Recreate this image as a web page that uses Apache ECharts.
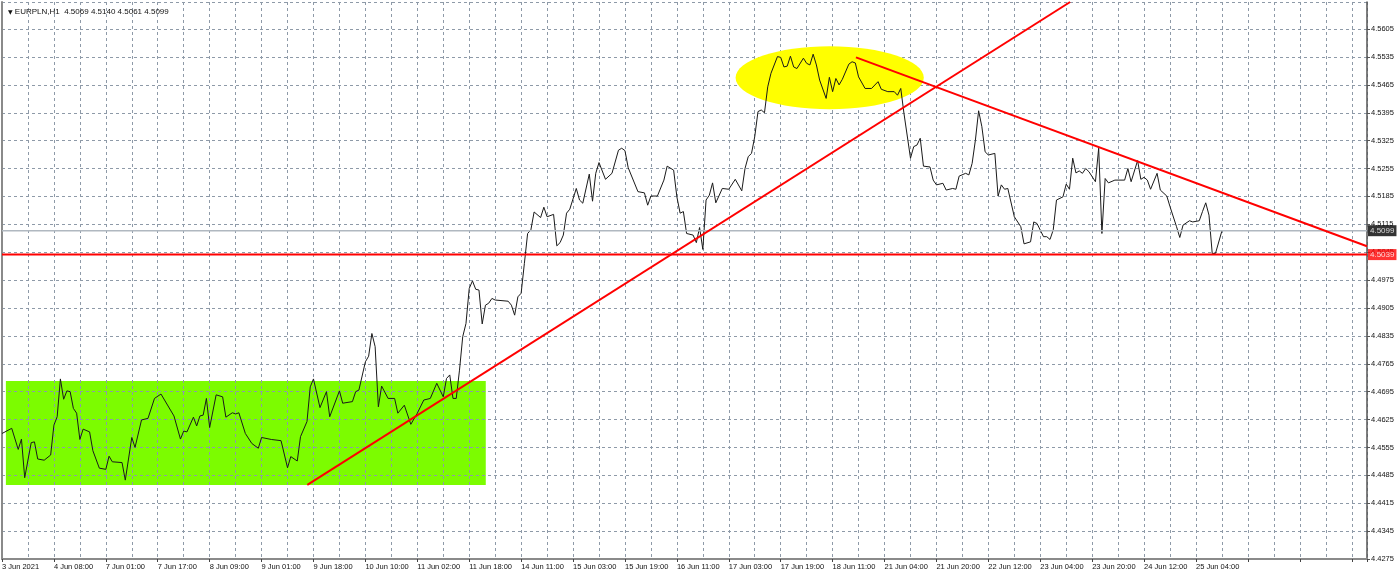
<!DOCTYPE html>
<html>
<head>
<meta charset="utf-8">
<script src="https://cdn.jsdelivr.net/npm/echarts@6/dist/echarts.min.js"></script>
<style>
    html, body { margin: 0; padding: 0; background: #fff; }
    #chart { width: 1400px; height: 578px; }
</style>
</head>
<body>
<div id="chart"></div>
<script>
    // EURPLN H1, bar index on x (one step = one hourly bar)
    const BASE = 4.4275;      // lowest price label on the axis
    const STEP = 0.007;       // price grid step

    const tickLabels = ['3 Jun 2021', '4 Jun 08:00', '7 Jun 01:00', '7 Jun 17:00', '8 Jun 09:00', '9 Jun 01:00',
        '9 Jun 18:00', '10 Jun 10:00', '11 Jun 02:00', '11 Jun 18:00', '14 Jun 11:00', '15 Jun 03:00',
        '15 Jun 19:00', '16 Jun 11:00', '17 Jun 03:00', '17 Jun 19:00', '18 Jun 11:00', '21 Jun 04:00',
        '21 Jun 20:00', '22 Jun 12:00', '23 Jun 04:00', '23 Jun 20:00', '24 Jun 12:00', '25 Jun 04:00'];

    const barIdx = [0, 3, 5, 6, 7, 9, 10, 11, 13, 15, 16, 17, 18, 19, 20, 21, 22, 23, 24, 25, 27, 28, 30, 32, 33, 34, 37, 38,
        40, 41, 43, 45, 47, 49, 53, 55, 56, 57, 59, 60, 61, 62, 63, 64, 66, 68, 69, 71, 72, 73, 75, 77, 79, 80, 83, 86, 88, 89,
        91, 92, 94, 95, 96, 98, 100, 101, 104, 105, 108, 109, 110, 112, 113, 114, 115, 116, 117, 119, 121, 122, 124, 126, 128,
        130, 132, 134, 136, 137, 138, 139, 140, 141, 142, 143, 144, 145, 146, 147, 148, 149, 150, 151, 152, 156, 157, 158, 159,
        160, 161, 162, 163, 164, 166, 167, 168, 170, 171, 172, 173, 174, 175, 177, 178, 179, 181, 182, 183, 184, 186, 188, 190,
        191, 192, 193, 196, 198, 199, 200, 202, 204, 205, 207, 208, 209, 210, 211, 213, 214, 215, 216, 217, 218, 219, 220, 222,
        224, 226, 228, 229, 230, 231, 232, 233, 234, 235, 236, 237, 239, 240, 241, 242, 243, 244, 245, 247, 248, 249, 250, 251,
        252, 254, 255, 256, 257, 258, 259, 261, 262, 263, 264, 266, 268, 270, 271, 273, 275, 276, 277, 278, 280, 281, 282, 283,
        284, 286, 287, 288, 290, 291, 293, 294, 295, 297, 298, 299, 300, 301, 302, 303, 304, 306, 307, 308, 309, 310, 312, 314,
        315, 317, 318, 319, 321, 322, 323, 324, 325, 327, 328, 329, 330, 331, 332, 333, 334, 335, 337, 338, 339, 340, 341, 343,
        346, 347, 348, 350, 351, 352, 353, 354, 356, 357, 359, 360, 362, 363, 364, 366, 367, 369, 370, 371, 372, 373, 374, 376];

    const closes = [4.4590, 4.4603, 4.4550, 4.4576, 4.4479, 4.4567, 4.4569, 4.4526, 4.4523, 4.4536, 4.4611, 4.4632, 4.4727,
        4.4676, 4.4697, 4.4695, 4.4653, 4.4641, 4.4575, 4.4601, 4.4594, 4.4547, 4.4503, 4.4500, 4.4533, 4.4519, 4.4517, 4.4473,
        4.4580, 4.4555, 4.4624, 4.4628, 4.4678, 4.4689, 4.4634, 4.4576, 4.4596, 4.4594, 4.4631, 4.4609, 4.4634, 4.4636, 4.4678,
        4.4605, 4.4687, 4.4682, 4.4631, 4.4642, 4.4639, 4.4642, 4.4590, 4.4565, 4.4553, 4.4580, 4.4575, 4.4572, 4.4504, 4.4532,
        4.4521, 4.4582, 4.4620, 4.4707, 4.4727, 4.4655, 4.4695, 4.4632, 4.4697, 4.4666, 4.4670, 4.4695, 4.4699, 4.4770, 4.4784,
        4.4841, 4.4808, 4.4657, 4.4709, 4.4678, 4.4678, 4.4641, 4.4661, 4.4613, 4.4641, 4.4674, 4.4678, 4.4716, 4.4682, 4.4728,
        4.4737, 4.4678, 4.4678, 4.4749, 4.4833, 4.4866, 4.4954, 4.4973, 4.4952, 4.4950, 4.4865, 4.4912, 4.4917, 4.4929, 4.4925,
        4.4922, 4.4912, 4.4887, 4.4933, 4.4942, 4.5017, 4.5092, 4.5101, 4.5146, 4.5132, 4.5158, 4.5134, 4.5140, 4.5061, 4.5069,
        4.5088, 4.5143, 4.5153, 4.5205, 4.5176, 4.5168, 4.5241, 4.5173, 4.5243, 4.5270, 4.5228, 4.5243, 4.5301, 4.5306, 4.5300,
        4.5257, 4.5197, 4.5194, 4.5163, 4.5186, 4.5186, 4.5226, 4.5261, 4.5251, 4.5184, 4.5143, 4.5147, 4.5092, 4.5088, 4.5069,
        4.5107, 4.5052, 4.5176, 4.5188, 4.5219, 4.5169, 4.5205, 4.5203, 4.5228, 4.5199, 4.5255, 4.5285, 4.5293, 4.5335, 4.5398,
        4.5402, 4.5395, 4.5460, 4.5494, 4.5536, 4.5534, 4.5510, 4.5512, 4.5537, 4.5510, 4.5506, 4.5532, 4.5519, 4.5515, 4.5542,
        4.5515, 4.5477, 4.5431, 4.5484, 4.5448, 4.5481, 4.5465, 4.5479, 4.5517, 4.5523, 4.5520, 4.5485, 4.5456, 4.5456, 4.5473,
        4.5454, 4.5448, 4.5448, 4.5439, 4.5456, 4.5393, 4.5281, 4.5310, 4.5314, 4.5331, 4.5261, 4.5259, 4.5226, 4.5214, 4.5218,
        4.5201, 4.5205, 4.5203, 4.5236, 4.5243, 4.5239, 4.5268, 4.5326, 4.5400, 4.5360, 4.5297, 4.5289, 4.5293, 4.5186, 4.5214,
        4.5203, 4.5205, 4.5134, 4.5109, 4.5066, 4.5071, 4.5121, 4.5117, 4.5084, 4.5084, 4.5077, 4.5101, 4.5176, 4.5184, 4.5216,
        4.5203, 4.5281, 4.5244, 4.5249, 4.5243, 4.5255, 4.5247, 4.5222, 4.5306, 4.5092, 4.5230, 4.5219, 4.5226, 4.5226, 4.5255,
        4.5222, 4.5275, 4.5228, 4.5233, 4.5226, 4.5203, 4.5243, 4.5201, 4.5186, 4.5159, 4.5109, 4.5082, 4.5113, 4.5124, 4.5121,
        4.5124, 4.5147, 4.5169, 4.5138, 4.5042, 4.5042, 4.5099];

    // header: open high low close of the last bar
    const ohlc = [4.5069, 4.5140, 4.5061, 4.5099];

    // drawn objects: trend lines (bar, price)
    const upTrendBars = [94.1, 329.2];
    const upTrendPrices = [4.4461, 4.5673];
    const downTrendBars = [263.2, 420.7];
    const downTrendPrices = [4.5534, 4.5060];
    const supportLevel = 4.5039;
    const bidLevel = 4.5099;

    // green range box: [bar from, price low, bar to, price high]
    const rangeBox = [1.2, 4.4461, 149.1, 4.4722];
    // yellow ellipse: [center bar, center price, half width in bars, half height in price]
    const topEllipse = [255.1, 4.5483, 29.0, 0.0079];

    const X_MAX = 420.7;
    const Y_TOP = 4.5673;

    const FONT = 'Liberation Sans';
    const GRID_LINE = { color: '#8e9aa8', width: 1, type: [3, 3] };

    function off(p) {
        return p - BASE;
    }

    // full width horizontal level
    function levelSeries(name, price, color, width) {
        return {
            name: name,
            type: 'line',
            z: 4,
            symbol: 'none',
            silent: true,
            data: [[0, off(price)], [X_MAX, off(price)]],
            lineStyle: { color: color, width: width }
        };
    }

    // price tag at the right axis
    function tagSeries(price, bg) {
        return {
            type: 'scatter',
            z: 6,
            clip: false,
            silent: true,
            symbolSize: 0,
            data: [[X_MAX, off(price)]],
            label: {
                show: true,
                position: 'right',
                distance: 1,
                formatter: price.toFixed(4),
                color: '#fff',
                backgroundColor: bg,
                padding: [1, 2, 1, 2],
                lineHeight: 9,
                fontFamily: FONT,
                fontSize: 8
            }
        };
    }

    let chart = echarts.init(document.getElementById('chart'), null, { renderer: 'canvas' });

    let priceData = barIdx.map((b, i) => [b, off(closes[i])]);

    let option = {
        animation: false,
        backgroundColor: '#ffffff',
        title: {
            left: 3,
            top: 3,
            text: '{tri|▼} EURPLN,H1  ' + ohlc.map(v => v.toFixed(4)).join(' '),
            textStyle: {
                fontFamily: FONT,
                fontSize: 8,
                fontWeight: 'normal',
                color: '#111',
                rich: {
                    tri: { fontSize: 6, color: '#111', fontFamily: 'DejaVu Sans' }
                }
            }
        },
        grid: {
            left: 2,
            right: 33,
            top: 2,
            bottom: 19,
            outerBoundsMode: 'none',
            containLabel: false
        },
        xAxis: [{
            type: 'value',
            min: 0,
            max: X_MAX,
            interval: 16,
            position: 'bottom',
            axisLine: { show: false },
            axisTick: { show: true, length: 3, lineStyle: { color: '#444' } },
            minorTick: { show: true, splitNumber: 2, length: 0 },
            minorSplitLine: { show: true, lineStyle: GRID_LINE },
            splitLine: { show: true, lineStyle: GRID_LINE },
            axisLabel: {
                show: true,
                showMaxLabel: false,
                align: 'left',
                margin: 4,
                fontFamily: FONT,
                fontSize: 7.5,
                color: '#111',
                formatter: function (v) {
                    let i = Math.round(v / 16);
                    return tickLabels[i] || '';
                }
            }
        }, {
            // top frame line only
            type: 'value',
            position: 'top',
            axisLine: { show: true, lineStyle: { color: '#8a8a8a', width: 2 } },
            axisTick: { show: false },
            axisLabel: { show: false },
            splitLine: { show: false }
        }],
        yAxis: [{
            type: 'value',
            position: 'right',
            min: 0,
            max: Y_TOP - BASE,
            interval: STEP,
            axisLine: { show: true, onZero: false, lineStyle: { color: '#555', width: 1.5 } },
            axisTick: { show: true, length: 3, lineStyle: { color: '#555' } },
            splitLine: { show: true, lineStyle: GRID_LINE },
            axisLabel: {
                show: true,
                showMaxLabel: false,
                margin: 4,
                fontFamily: FONT,
                fontSize: 7.5,
                color: '#111',
                formatter: function (v) {
                    if (v > 19 * STEP + 0.0005) return '';
                    return (BASE + v).toFixed(4);
                }
            }
        }, {
            // left frame line only
            type: 'value',
            position: 'left',
            axisLine: { show: true, onZero: false, lineStyle: { color: '#8a8a8a', width: 2 } },
            axisTick: { show: false },
            axisLabel: { show: false },
            splitLine: { show: false }
        }],
        series: [
            {
                // green consolidation box, under the grid
                type: 'custom',
                name: 'range',
                z: -1,
                silent: true,
                renderItem: function (params, api) {
                    let p0 = api.coord([api.value(0), api.value(1)]);
                    let p1 = api.coord([api.value(2), api.value(3)]);
                    return {
                        type: 'rect',
                        shape: { x: p0[0], y: p1[1], width: p1[0] - p0[0], height: p0[1] - p1[1] },
                        style: { fill: '#7cfc00' }
                    };
                },
                data: [[rangeBox[0], off(rangeBox[1]), rangeBox[2], off(rangeBox[3])]]
            },
            {
                // yellow ellipse round the top
                type: 'custom',
                name: 'top',
                z: 1,
                silent: true,
                renderItem: function (params, api) {
                    let c = api.coord([api.value(0), api.value(1)]);
                    let e = api.coord([api.value(0) + api.value(2), api.value(1) + api.value(3)]);
                    return {
                        type: 'ellipse',
                        shape: { cx: c[0], cy: c[1], rx: e[0] - c[0], ry: c[1] - e[1] },
                        style: { fill: '#ffff00' }
                    };
                },
                data: [[topEllipse[0], off(topEllipse[1]), topEllipse[2], topEllipse[3]]]
            },
            levelSeries('bid', bidLevel, '#b0b8c0', 1.5),
            {
                name: 'EURPLN',
                type: 'line',
                z: 3,
                data: priceData,
                showSymbol: false,
                symbol: 'none',
                lineStyle: { color: '#1a1a1a', width: 1 }
            },
            levelSeries('support', supportLevel, '#ff0000', 2),
            {
                name: 'trend up',
                type: 'line',
                z: 4,
                clip: true,
                symbol: 'none',
                data: upTrendBars.map((b, i) => [b, off(upTrendPrices[i])]),
                lineStyle: { color: '#ff0000', width: 2 }
            },
            {
                name: 'trend down',
                type: 'line',
                z: 4,
                clip: true,
                symbol: 'none',
                data: downTrendBars.map((b, i) => [b, off(downTrendPrices[i])]),
                lineStyle: { color: '#ff0000', width: 2 }
            },
            tagSeries(bidLevel, '#000000'),
            tagSeries(supportLevel, '#ff0000')
        ]
    };

    chart.setOption(option);
</script>
</body>
</html>
